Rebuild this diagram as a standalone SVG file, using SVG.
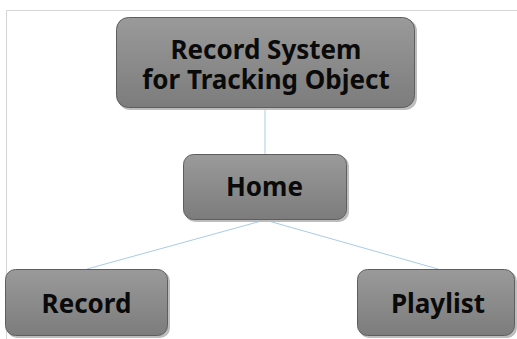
<svg xmlns="http://www.w3.org/2000/svg" width="517" height="339" viewBox="0 0 517 339">
<defs>
<linearGradient id="g" x1="0" y1="0" x2="0" y2="1">
<stop offset="0" stop-color="#9a9a9a"/>
<stop offset="1" stop-color="#7c7c7c"/>
</linearGradient>
</defs>
<style>
.box{fill:url(#g);stroke:#5e5e5e;stroke-width:1}
.sh{fill:#bdbdbd}
.t{font-family:"Noto Sans","Open Sans",sans-serif;font-weight:bold;font-size:26px;fill:#0a0a0a;text-anchor:middle}
.c{stroke:#a9cbe8;stroke-width:1;fill:none}
</style>
<rect width="517" height="339" fill="#fff"/>
<path d="M6.5 339 V10.5 H517" fill="none" stroke="#d4d4d4" stroke-width="1"/>
<g id="connectors">
<line class="c" x1="265" y1="108" x2="265" y2="154"/>
<line class="c" x1="265" y1="220" x2="87" y2="269"/>
<line class="c" x1="265" y1="220" x2="438" y2="269"/>
</g>
<g id="root">
<rect class="sh" x="118" y="19" width="299" height="91" rx="12"/>
<rect class="box" x="116.5" y="17.5" width="298" height="90" rx="12"/>
<text class="t"><tspan x="266" y="59">Record System</tspan><tspan x="266" y="89">for Tracking Object</tspan></text>
</g>
<g id="home">
<rect class="sh" x="185" y="156" width="164" height="66" rx="10"/>
<rect class="box" x="183.5" y="154.5" width="163" height="65" rx="10"/>
<text class="t" x="264.5" y="196">Home</text>
</g>
<g id="record">
<rect class="sh" x="7" y="271" width="163" height="67" rx="10"/>
<rect class="box" x="5.5" y="269.5" width="162" height="66" rx="10"/>
<text class="t" x="86.5" y="313">Record</text>
</g>
<g id="playlist">
<rect class="sh" x="359" y="271" width="158" height="67" rx="10"/>
<rect class="box" x="357.5" y="269.5" width="157" height="66" rx="10"/>
<text class="t" x="438" y="313">Playlist</text>
</g>
</svg>
